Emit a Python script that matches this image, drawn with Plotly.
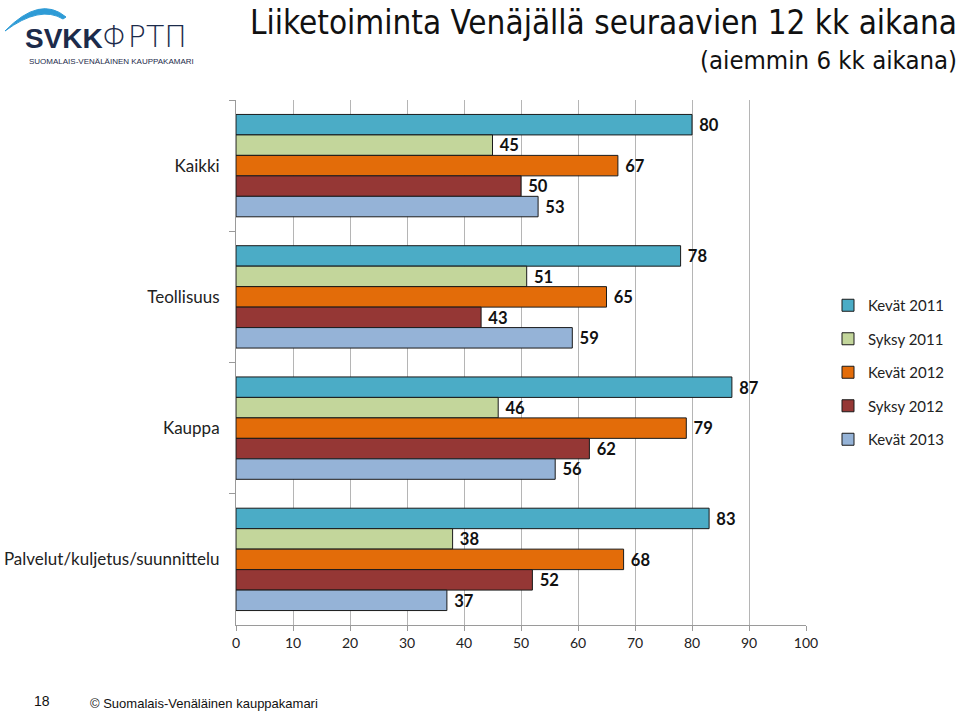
import plotly.graph_objects as go

categories = ["Kaikki", "Teollisuus", "Kauppa", "Palvelut/kuljetus/suunnittelu"]
series_names = ["Kevät 2011", "Syksy 2011", "Kevät 2012", "Syksy 2012", "Kevät 2013"]
kevat_2011 = [80, 78, 87, 83]
syksy_2011 = [45, 51, 46, 38]
kevat_2012 = [67, 65, 79, 68]
syksy_2012 = [50, 43, 62, 52]
kevat_2013 = [53, 59, 56, 37]
series_values = [kevat_2011, syksy_2011, kevat_2012, syksy_2012, kevat_2013]
colors = ["#4BACC6", "#C3D69B", "#E36C09", "#953735", "#95B3D7"]
x_ticks = [0, 10, 20, 30, 40, 50, 60, 70, 80, 90, 100]

W, H = 960, 711
L, R, T, B = 236, 154, 100, 86
PW, PH = W - L - R, H - T - B


def px(x):
    return (x - L) / PW


def py(y):
    return (H - B - y) / PH


FONT = "Lato, Carlito, Calibri, sans-serif"
TFONT = "DejaVu Sans Condensed, Tahoma, sans-serif"

fig = go.Figure()
for name, vals, col in zip(series_names, series_values, colors):
    fig.add_trace(go.Bar(
        y=categories, x=vals, name=name, orientation="h",
        marker=dict(color=col, line=dict(color="#1a1a1a", width=1)),
        text=vals, texttemplate=" <b>%{x}</b>", textposition="outside",
        textfont=dict(family=FONT, size=17, color="#111111"),
        cliponaxis=False, legendgroup=name,
    ))

fig.update_layout(
    width=W, height=H,
    margin=dict(l=L, r=R, t=T, b=B, autoexpand=False),
    paper_bgcolor="white", plot_bgcolor="white",
    barmode="group", bargap=0.22, bargroupgap=0,
    font=dict(family=FONT, size=16, color="#222222"),
    showlegend=True,
    legend=dict(x=px(828), y=py(289), xanchor="left", yanchor="top",
                traceorder="grouped", tracegroupgap=11,
                font=dict(family=FONT, size=15, color="#222222"),
                itemwidth=30, bgcolor="rgba(0,0,0,0)"),
    xaxis=dict(range=[0, 100], tickvals=x_ticks, showgrid=True,
               gridcolor="#b5b5b5", gridwidth=1, zeroline=False,
               showline=True, linecolor="#9a9a9a", ticks="outside",
               ticklen=5, tickcolor="#9a9a9a",
               tickfont=dict(family=FONT, size=14, color="#222222")),
    yaxis=dict(autorange="reversed", showline=True, linecolor="#9a9a9a",
               ticks="outside", ticklen=6, tickcolor="#9a9a9a",
               tickson="boundaries", showgrid=False, ticklabelstandoff=12,
               tickfont=dict(family=FONT, size=17, color="#222222")),
)

# Title
fig.add_annotation(text="Liiketoiminta Venäjällä seuraavien 12 kk aikana",
                   xref="paper", yref="paper", x=px(959), y=py(23),
                   xanchor="right", yanchor="middle", showarrow=False,
                   font=dict(family=TFONT, size=33, color="#111111"))
fig.add_annotation(text="(aiemmin 6 kk aikana)",
                   xref="paper", yref="paper", x=px(959), y=py(60),
                   xanchor="right", yanchor="middle", showarrow=False,
                   font=dict(family=TFONT, size=25.5, color="#111111"))

# Logo
arc = (f"M {px(5)},{py(31)} Q {px(40)},{py(-5)} {px(66)},{py(17)} "
       f"L {px(63)},{py(19)} Q {px(40)},{py(5)} {px(5)},{py(31)} Z")
fig.add_shape(type="path", path=arc, xref="paper", yref="paper",
              fillcolor="#2E9BD6", line=dict(color="#2E9BD6", width=1))
fig.add_annotation(text="<b>SVKK</b>", xref="paper", yref="paper",
                   x=px(104), y=py(38), xanchor="right", yanchor="middle",
                   showarrow=False, borderpad=0,
                   font=dict(family="Liberation Sans, Arial", size=28, color="#1c2b4b"))
fig.add_annotation(text="ΦΡΤΠ", xref="paper", yref="paper",
                   x=px(101), y=py(37), xanchor="left", yanchor="middle",
                   showarrow=False, borderpad=0,
                   font=dict(family="DejaVu Sans ExtraLight, DejaVu Sans, sans-serif",
                             size=30, color="#1c2b4b", weight=200))
fig.add_annotation(text="SUOMALAIS-VENÄLÄINEN KAUPPAKAMARI", xref="paper", yref="paper",
                   x=px(28), y=py(62), xanchor="left", yanchor="middle",
                   showarrow=False, borderpad=0,
                   font=dict(family="Liberation Sans Narrow, Liberation Sans, Arial", size=8, color="#1c2b4b"))

# Footer
fig.add_annotation(text="18", xref="paper", yref="paper",
                   x=px(32), y=py(701), xanchor="left", yanchor="middle",
                   showarrow=False,
                   font=dict(family="Liberation Sans, Arial", size=14, color="#111111"))
fig.add_annotation(text="© Suomalais-Venäläinen kauppakamari", xref="paper", yref="paper",
                   x=px(88), y=py(703), xanchor="left", yanchor="middle",
                   showarrow=False,
                   font=dict(family="Liberation Sans, Arial", size=13, color="#111111"))

fig.write_html("out.html", config={"displayModeBar": False},
               post_script="document.body.style.margin='0';document.body.style.overflow='hidden';")
